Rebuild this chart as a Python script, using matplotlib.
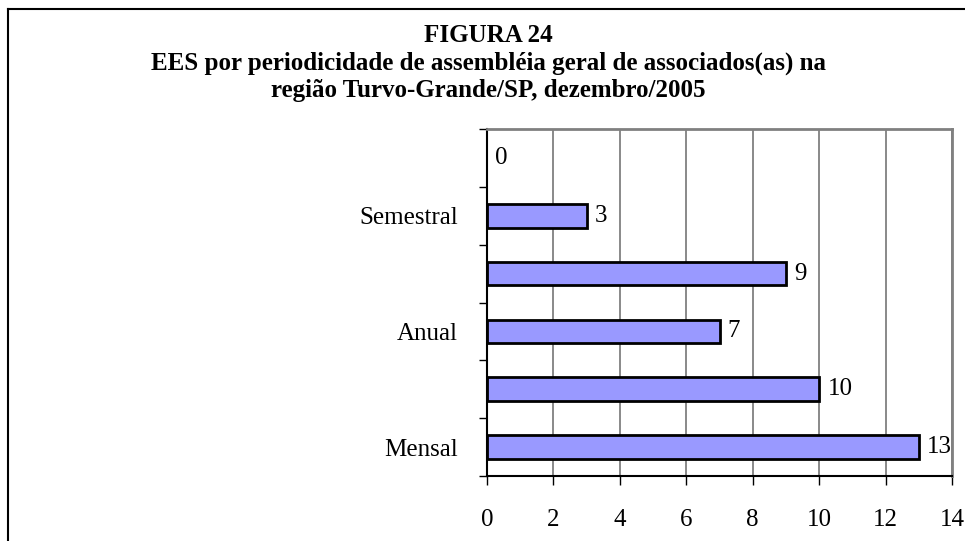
import numpy as np
import matplotlib.pyplot as plt
from matplotlib.lines import Line2D

plt.rcParams['font.family'] = ['Liberation Serif', 'DejaVu Serif']

categorias = ['Mensal', '', 'Anual', '', 'Semestral', '']
valores = [13, 10, 7, 9, 3, 0]
xticks = [0, 2, 4, 6, 8, 10, 12, 14]
titulo = ['FIGURA 24',
          'EES por periodicidade de assembléia geral de associados(as) na',
          'região Turvo-Grande/SP, dezembro/2005']

W, H = 965, 541
fig = plt.figure(figsize=(W / 100, H / 100), dpi=100)
ax = fig.add_axes([487 / W, 1 - 476 / H, (952 - 487) / W, (476 - 129) / H])

pos = np.arange(len(valores))
larguras = [2 if v else 0 for v in valores]
ax.barh(pos, valores, height=0.41, color='#9999FF', edgecolor='black',
        linewidth=larguras, zorder=2)
for p, v in zip(pos, valores):
    ax.annotate(str(v), (v, p), xytext=(6, 0), textcoords='offset points',
                va='center', ha='left', fontsize=18)

ax.set_xlim(0, 14)
ax.set_ylim(-0.5, len(valores) - 0.5)
ax.set_xticks(xticks)
ax.set_xticklabels([str(t) for t in xticks], fontsize=18)
ax.set_yticks(pos)
ax.set_yticklabels(categorias, fontsize=18)
ax.set_yticks(np.arange(len(valores) + 1) - 0.5, minor=True)
ax.tick_params(axis='y', which='major', length=0, pad=21)
ax.tick_params(axis='y', which='minor', length=6, width=1, direction='out')
ax.tick_params(axis='x', length=6.5, width=1, direction='out', pad=17)
ax.grid(axis='x', color='#808080', linewidth=1.3, zorder=0)
ax.set_axisbelow(True)
for s in ['left', 'bottom']:
    ax.spines[s].set_color('black')
    ax.spines[s].set_linewidth(1.5)
for s in ['top', 'right']:
    ax.spines[s].set_color('#808080')
    ax.spines[s].set_linewidth(2)

for y, linha in zip([35, 63, 90], titulo):
    fig.text(488 / W, 1 - y / H, linha, ha='center', va='center', fontsize=18,
             fontweight='bold')

# moldura externa
fig.add_artist(Line2D([8 / W, 8 / W], [1 - 9 / H, 0], color='black', lw=1.5))
fig.add_artist(Line2D([8 / W, 1], [1 - 9 / H, 1 - 9 / H], color='black', lw=1.5))

fig.savefig('out.png', dpi=100)
